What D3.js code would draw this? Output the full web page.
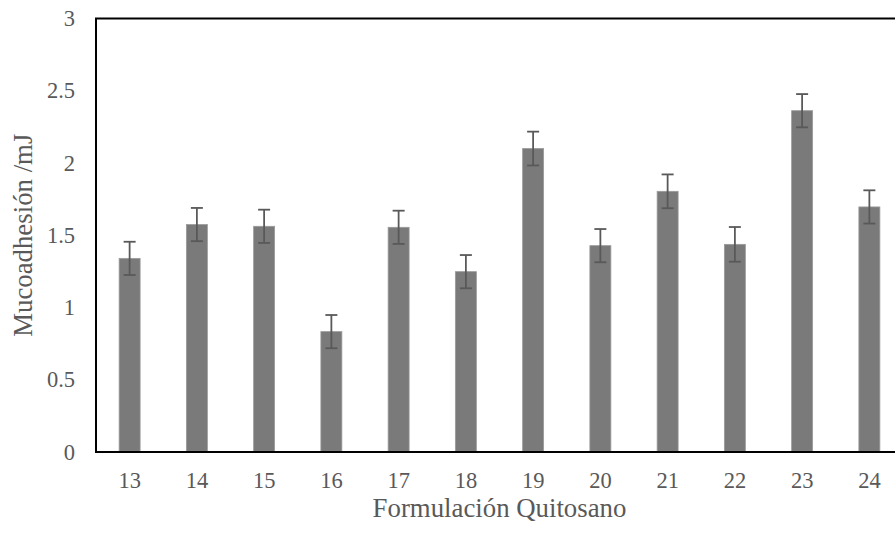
<!DOCTYPE html>
<html>
<head>
<meta charset="utf-8">
<script src="https://cdn.jsdelivr.net/npm/d3@7"></script>
<style>
  html, body { margin: 0; padding: 0; background: #fff; }
  svg { display: block; }
  svg text { font-family: "Liberation Serif", "DejaVu Serif", serif; }
</style>
</head>
<body>
<svg id="chart" width="895" height="533"></svg>
<script>
// Mucoadhesion work (mJ) per chitosan formulation, with error bars
const formulations = ["13", "14", "15", "16", "17", "18", "19", "20", "21", "22", "23", "24"];
const mucoadhesion = [1.34, 1.574, 1.562, 0.833, 1.555, 1.248, 2.10, 1.428, 1.804, 1.437, 2.362, 1.696];
const errors = [0.115, 0.115, 0.115, 0.115, 0.115, 0.115, 0.117, 0.115, 0.117, 0.12, 0.115, 0.115];
const yTicks = [0, 0.5, 1, 1.5, 2, 2.5, 3];
const xTitle = "Formulación Quitosano";
const yTitle = "Mucoadhesión /mJ";

const svg = d3.select("#chart");
const plotLeft = 96, plotRight = 903, plotTop = 18.5, plotBottom = 452;
const textColor = "#595959";

const x = d3.scaleBand()
  .domain(formulations)
  .range([plotLeft, plotRight])
  .paddingInner(0.688)
  .paddingOuter(0.344);

const y = d3.scaleLinear().domain([0, 3]).range([plotBottom, plotTop]);

// bars
svg.append("g").selectAll("rect")
  .data(formulations)
  .join("rect")
  .attr("x", d => x(d))
  .attr("width", x.bandwidth())
  .attr("y", (d, i) => y(mucoadhesion[i]))
  .attr("height", (d, i) => plotBottom - y(mucoadhesion[i]))
  .attr("fill", "#7a7a7a")
  .attr("stroke", "#9a9a9a")
  .attr("stroke-width", 0.8);

// error bars
const eb = svg.append("g").attr("stroke", "#595959").attr("stroke-width", 1.8);
formulations.forEach((d, i) => {
  const cx = x(d) + x.bandwidth() / 2;
  const hi = y(mucoadhesion[i] + errors[i]);
  const lo = y(mucoadhesion[i] - errors[i]);
  eb.append("line").attr("x1", cx).attr("x2", cx).attr("y1", hi).attr("y2", lo);
  eb.append("line").attr("x1", cx - 6).attr("x2", cx + 6).attr("y1", hi).attr("y2", hi);
  eb.append("line").attr("x1", cx - 6).attr("x2", cx + 6).attr("y1", lo).attr("y2", lo);
});

// plot frame
svg.append("rect")
  .attr("x", plotLeft).attr("y", plotTop)
  .attr("width", plotRight - plotLeft).attr("height", plotBottom - plotTop)
  .attr("fill", "none").attr("stroke", "#000").attr("stroke-width", 2);

// y axis labels
const yAxis = svg.append("g")
  .attr("transform", `translate(${plotLeft},0)`)
  .call(d3.axisLeft(y).tickValues(yTicks).tickSize(0).tickPadding(21).tickFormat(d3.format("")));
yAxis.attr("font-family", null);
yAxis.select(".domain").remove();
yAxis.selectAll("text").attr("font-size", 22.5).attr("fill", textColor);

// x axis labels
const xAxis = svg.append("g")
  .attr("transform", `translate(0,${plotBottom})`)
  .call(d3.axisBottom(x).tickSize(0).tickPadding(20));
xAxis.attr("font-family", null);
xAxis.select(".domain").remove();
xAxis.selectAll("text").attr("font-size", 22.5).attr("fill", textColor);

// axis titles
svg.append("text")
  .attr("x", (plotLeft + plotRight) / 2).attr("y", 517)
  .attr("text-anchor", "middle")
  .attr("font-size", 26.8).attr("fill", textColor)
  .text(xTitle);

svg.append("text")
  .attr("transform", `translate(32,${(plotTop + plotBottom) / 2}) rotate(-90)`)
  .attr("text-anchor", "middle")
  .attr("font-size", 26.8).attr("fill", textColor)
  .text(yTitle);
</script>
</body>
</html>
